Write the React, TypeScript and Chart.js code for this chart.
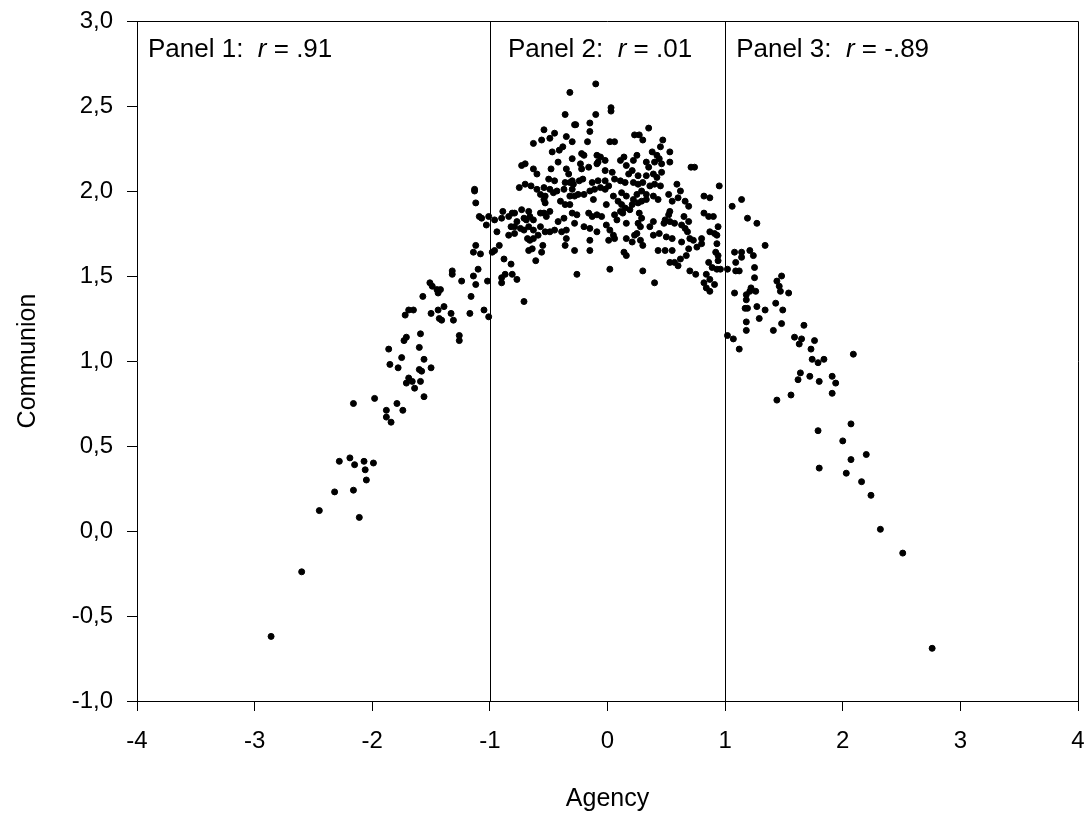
import React, { useEffect, useRef } from "react";
import { Chart, registerables } from "chart.js";

Chart.register(...registerables);

// ---- Data ----
const panel1X = [
  -1.51, -1.49, -1.45, -1.42, -1.44, -1.57, -1.16,
  -1.72, -1.69, -1.65, -1.50, -1.44, -1.39, -1.33, -1.31, -1.43, -1.41, -1.17, -1.05, -1.01,
  -1.26, -1.26, -1.59, -1.71, -1.73, -1.86, -1.60, -1.75, -1.56, -1.85, -1.78, -1.50, -1.60, -1.58,
  -1.69, -1.66, -1.71, -1.59, -1.64, -1.56, -1.98, -2.16, -1.79, -1.88, -1.74, -1.88, -1.84,
  -2.28, -2.19, -2.15, -2.07, -1.99, -2.06, -2.05, -2.32, -2.16, -2.45, -2.11, -2.60, -2.86,
  -1.13, -1.13, -1.12, -1.09, -1.07, -1.03, -1.01, -1.12, -1.14, -1.08, -1.32, -1.32, -1.24,
  -1.10, -1.14, -1.12, -1.02,
];
const panel1Y = [
  1.46, 1.44, 1.42, 1.42, 1.40, 1.38, 1.38,
  1.27, 1.30, 1.30, 1.28, 1.30, 1.32, 1.28, 1.24, 1.25, 1.24, 1.28, 1.30, 1.26,
  1.15, 1.12, 1.16, 1.14, 1.12, 1.07, 1.08, 1.02, 1.01, 0.98, 0.96, 0.96, 0.95, 0.94,
  0.90, 0.88, 0.87, 0.88, 0.84, 0.79, 0.78, 0.75, 0.75, 0.71, 0.71, 0.67, 0.64,
  0.41, 0.43, 0.39, 0.41, 0.40, 0.36, 0.30, 0.23, 0.24, 0.12, 0.08, -0.24, -0.62,
  2.01, 2.00, 1.93, 1.85, 1.84, 1.80, 1.85, 1.68, 1.64, 1.63, 1.53, 1.51, 1.47,
  1.54, 1.50, 1.45, 1.47,
];

const panel2X = [
  -0.96, -0.94, -0.90, -0.89, -0.84, -0.81, -0.79, -0.77, -0.82, -0.79, -0.84, -0.79, -0.73, -0.69,
  -0.67, -0.74, -0.71, -0.75, -0.70, -0.65, -0.60, -0.60, -0.68, -0.66, -0.67, -0.64, -0.61, -0.56,
  -0.55, -0.71, -0.63, -0.57, -0.53, -0.57, -0.54, -0.52, -0.98, -0.96, -0.92, -0.88, -0.82, -0.90,
  -0.90, -0.87, -0.81, -0.77,
  -0.10, -0.32, -0.36, -0.10, -0.15, -0.28, -0.27, -0.15, -0.54, -0.63, -0.56, -0.49, -0.45, -0.35,
  -0.30, -0.38, -0.41, -0.47, -0.17, -0.22, -0.20, -0.30, -0.42, -0.09, -0.06, -0.08, -0.02, -0.23,
  -0.22, -0.16, -0.09, -0.73, -0.70, -0.63, -0.48, -0.35, -0.33, -0.50, -0.45, -0.36, -0.32, -0.30,
  -0.24, -0.21, -0.13, -0.08, -0.02, -0.54, -0.57, -0.53, -0.49, -0.46, -0.37, -0.30, -0.29, -0.25,
  -0.20, -0.15, -0.11, -0.06, -0.02, 0.01,
  -0.54, -0.53, -0.43, -0.32, -0.28, -0.12, -0.01, -0.40, -0.36, -0.32, -0.71, -0.66, -0.63, -0.49,
  -0.42, -0.37, -0.30, -0.26, -0.16, -0.13, -0.09, -0.05, -0.28, -0.67, -0.49, -0.45, -0.39, -0.35,
  -0.20, -0.15, -0.09, -0.01, -0.63, -0.59, -0.35, -0.36, -0.28, -0.15, -0.15, 0.01, -0.26, 0.02,
  0.03, 0.03, 0.35, 0.23, 0.27, 0.30, 0.02, 0.06, 0.47, 0.45, 0.53, 0.38, 0.42, 0.44, 0.40, 0.25,
  0.14, 0.11, 0.22, 0.16, 0.33, 0.35, 0.53, 0.46, 0.71, 0.74, -0.02, 0.04, 0.21, 0.18, 0.26, 0.33,
  0.39, 0.42, 0.46, 0.06, 0.11, 0.15, 0.22, 0.26, 0.30, 0.36, 0.40, 0.45, 0.59, 0.62, 0.95, 0.82,
  0.87, 0.52, 0.05, 0.12, 0.16, 0.25, 0.29, 0.33, 0.39,
  0.43, 0.55, 0.60, 0.66, 0.69, 0.09, 0.12, 0.15, 0.11, 0.13, 0.22, 0.21, 0.19, 0.26, 0.29, 0.33,
  0.06, 0.08, 0.16, 0.27, 0.29, 0.26, 0.28, 0.53, 0.52, 0.49, 0.53, 0.48, 0.57, 0.65, 0.69, 0.39,
  0.36, 0.63, 0.66, 0.68, 0.82, 0.86, 0.90, 0.94, 0.87, 0.91, 0.93, 0.02, 0.05, 0.06, 0.16, 0.21,
  0.23, 0.25, 0.28, 0.30, 0.39, 0.44, 0.50, 0.55, 0.63, 0.70, 0.73, 0.76, 0.80, 0.80, 0.43, 0.49,
  0.55, 0.14, 0.16, 0.69, 0.67, 0.93, 0.92, 0.94, 0.53, 0.57, 0.62, 0.60, 0.30, 0.40, 0.70, 0.75,
  0.86, 0.89, 0.93, 0.96, 0.84, 0.87, 0.91, 0.82, 0.84, 0.94, 0.87,
];
const panel2Y = [
  1.83, 1.76, 1.84, 1.88, 1.85, 1.87, 1.87, 1.82, 1.79, 1.79, 1.74, 1.75, 1.89, 1.83,
  1.88, 1.78, 1.77, 2.02, 2.04, 2.03, 2.10, 2.01, 1.72, 1.71, 1.65, 1.66, 1.59, 1.64,
  1.68, 1.35, 1.77, 1.79, 1.76, 1.87, 1.87, 1.85, 1.64, 1.65, 1.68, 1.60, 1.57, 1.49,
  1.46, 1.51, 1.51, 1.48,
  2.63, 2.58, 2.45, 2.45, 2.40, 2.39, 2.39, 2.35, 2.36, 2.28, 2.30, 2.31, 2.34, 2.32,
  2.29, 2.26, 2.24, 2.23, 2.29, 2.22, 2.21, 2.19, 2.17, 2.21, 2.20, 2.17, 2.18, 2.16,
  2.13, 2.14, 2.16, 2.15, 2.16, 2.13, 2.13, 2.13, 2.10, 2.07, 2.06, 2.05, 2.05, 2.06,
  2.06, 2.07, 2.05, 2.06, 2.06, 2.02, 1.98, 1.97, 2.01, 1.99, 2.01, 2.01, 2.04, 1.98,
  1.98, 2.00, 2.01, 2.02, 2.01, 2.03,
  1.95, 1.93, 2.00, 1.97, 1.97, 1.95, 1.92, 1.94, 1.92, 1.92, 1.84, 1.85, 1.83, 1.88,
  1.82, 1.84, 1.87, 1.86, 1.87, 1.85, 1.86, 1.85, 1.81, 1.79, 1.76, 1.77, 1.76, 1.77,
  1.79, 1.78, 1.76, 1.80, 1.72, 1.74, 1.72, 1.68, 1.65, 1.65, 1.71, 1.71, 1.51, 1.54,
  2.49, 2.47, 2.37, 2.33, 2.33, 2.30, 2.29, 2.29, 2.30, 2.26, 2.23, 2.23, 2.21, 2.19, 2.17, 2.21,
  2.20, 2.18, 2.18, 2.15, 2.17, 2.14, 2.17, 2.16, 2.14, 2.14, 2.12, 2.11, 2.12, 2.10, 2.09, 2.09,
  2.10, 2.08, 2.11, 2.07, 2.06, 2.05, 2.05, 2.04, 2.05, 2.03, 2.04, 2.03, 2.04, 2.00, 2.03, 1.97,
  1.96, 1.98, 1.97, 1.99, 1.97, 1.98, 2.00, 1.98, 1.97,
  1.95, 1.94, 1.96, 1.94, 1.91, 1.94, 1.92, 1.90, 1.88, 1.87, 1.95, 1.92, 1.89, 1.93, 1.94, 1.95,
  1.86, 1.83, 1.81, 1.87, 1.84, 1.81, 1.79, 1.88, 1.86, 1.83, 1.82, 1.81, 1.81, 1.85, 1.82, 1.82,
  1.79, 1.80, 1.78, 1.76, 1.87, 1.85, 1.85, 1.79, 1.76, 1.75, 1.74, 1.77, 1.74, 1.72, 1.72, 1.70,
  1.74, 1.75, 1.71, 1.68, 1.74, 1.75, 1.73, 1.72, 1.70, 1.72, 1.71, 1.67, 1.72, 1.69, 1.65, 1.65,
  1.65, 1.64, 1.62, 1.66, 1.62, 1.69, 1.64, 1.62, 1.58, 1.58, 1.60, 1.56, 1.53, 1.46, 1.53, 1.51,
  1.58, 1.55, 1.54, 1.54, 1.51, 1.48, 1.45, 1.46, 1.43, 1.59, 1.41,
];

const panel3X = [
  1.14, 1.06, 1.19, 1.27, 1.34, 1.08, 1.14, 1.21, 1.14, 1.24, 1.09, 1.02, 1.09, 1.12, 1.25, 1.25,
  1.44, 1.48, 1.46, 1.47, 1.54, 1.22, 1.21, 1.18, 1.18, 1.17, 1.19, 1.26, 1.08, 1.27, 1.34, 1.43,
  1.49, 1.29, 1.18, 1.48, 1.18, 1.41, 1.67, 1.02, 1.07, 1.12, 1.59, 1.65, 1.63, 1.76, 1.73, 1.74,
  1.79, 1.84, 1.64, 1.62, 1.72, 1.80, 1.91, 1.94, 1.91, 1.44, 1.56,
  2.09, 2.07, 1.79, 2.00, 2.20, 2.07, 1.80, 2.03, 2.16, 2.24, 2.32, 2.51, 2.76,
];
const panel3Y = [
  1.95, 1.91, 1.84, 1.81, 1.68, 1.64, 1.64, 1.65, 1.61, 1.62, 1.58, 1.54, 1.53, 1.53, 1.55, 1.49,
  1.47, 1.50, 1.44, 1.41, 1.40, 1.43, 1.41, 1.39, 1.36, 1.31, 1.31, 1.41, 1.40, 1.32, 1.30, 1.34,
  1.30, 1.25, 1.23, 1.22, 1.18, 1.18, 1.21, 1.15, 1.13, 1.07, 1.14, 1.13, 1.10, 1.12, 1.07, 1.01,
  0.99, 1.01, 0.93, 0.89, 0.91, 0.88, 0.91, 0.87, 0.81, 0.77, 0.80,
  1.04, 0.63, 0.59, 0.53, 0.45, 0.42, 0.37, 0.34, 0.29, 0.21, 0.01, -0.13, -0.69,
];

const xMin = -4;
const xMax = 4;
const xStep = 1;
const yMin = -1;
const yMax = 3;
const yStep = 0.5;

const panelBounds = [-1, 1];
const panelAnchors = [-4, -1, 1];
const panelNames = ["Panel 1:", "Panel 2:", "Panel 3:"];
const panelR = [".91", ".01", "-.89"];

const xTitle = "Agency";
const yTitle = "Communion";

const FONT = '"Liberation Sans", Arial, Helvetica, sans-serif';

const toPoints = (xs: number[], ys: number[]) => xs.map((x, i) => ({ x, y: ys[i] }));

const overlayPlugin = {
  id: "overlay",
  afterDraw(chart: any) {
    const { ctx, chartArea } = chart;
    const xs = chart.scales.x;
    const { left, right, top, bottom } = chartArea;
    ctx.save();
    ctx.strokeStyle = "#000";
    ctx.lineWidth = 1;
    ctx.beginPath();
    ctx.moveTo(left, top + 0.5);
    ctx.lineTo(right + 0.5, top + 0.5);
    ctx.lineTo(right + 0.5, bottom);
    ctx.stroke();
    panelBounds.forEach((v) => {
      const px = Math.round(xs.getPixelForValue(v)) + 0.5;
      ctx.beginPath();
      ctx.moveTo(px, top);
      ctx.lineTo(px, bottom);
      ctx.stroke();
    });
    ctx.fillStyle = "#000";
    ctx.textBaseline = "middle";
    ctx.textAlign = "left";
    const offsets = [11, 18, 11];
    panelAnchors.forEach((a, i) => {
      let x = xs.getPixelForValue(a) + offsets[i];
      const y = top + 29;
      ctx.font = `26px ${FONT}`;
      const p1 = panelNames[i] + "  ";
      ctx.fillText(p1, x, y);
      x += ctx.measureText(p1).width;
      ctx.font = `italic 26px ${FONT}`;
      ctx.fillText("r", x, y);
      x += ctx.measureText("r").width;
      ctx.font = `26px ${FONT}`;
      ctx.fillText(" = " + panelR[i], x, y);
    });
    ctx.font = `25px ${FONT}`;
    ctx.textAlign = "center";
    ctx.textBaseline = "alphabetic";
    ctx.fillText(xTitle, (left + right) / 2, 806);
    ctx.translate(28, (top + bottom) / 2);
    ctx.rotate(-Math.PI / 2);
    ctx.textBaseline = "middle";
    ctx.fillText(yTitle, 0, 0);
    ctx.restore();
  },
};

export default function App() {
  const canvasRef = useRef<HTMLCanvasElement | null>(null);

  useEffect(() => {
    if (!canvasRef.current) return;
    const pointStyle = {
      showLine: false,
      backgroundColor: "#000",
      borderColor: "#000",
      pointRadius: 3,
      pointBorderWidth: 1,
      pointHoverRadius: 3,
    };
    const chart = new Chart(canvasRef.current, {
      type: "scatter",
      data: {
        datasets: [
          { label: "Panel 1", data: toPoints(panel1X, panel1Y), ...pointStyle },
          { label: "Panel 2", data: toPoints(panel2X, panel2Y), ...pointStyle },
          { label: "Panel 3", data: toPoints(panel3X, panel3Y), ...pointStyle },
        ],
      },
      options: {
        responsive: false,
        animation: false,
        layout: { padding: 0 },
        plugins: {
          legend: { display: false },
          tooltip: { enabled: false },
        },
        scales: {
          x: {
            type: "linear",
            min: xMin,
            max: xMax,
            afterFit: (s: any) => {
              s.height = 112;
              s.paddingLeft = 0;
              s.paddingRight = 8;
              s.paddingTop = 0;
              s.paddingBottom = 0;
            },
            ticks: {
              stepSize: xStep,
              color: "#000",
              padding: 16,
              font: { family: FONT, size: 24 },
              maxRotation: 0,
            },
            grid: {
              drawOnChartArea: false,
              drawTicks: true,
              tickLength: 10,
              tickColor: "#000",
              tickWidth: 1,
            },
            border: { display: true, color: "#000", width: 1 },
          },
          y: {
            type: "linear",
            min: yMin,
            max: yMax,
            afterFit: (s: any) => {
              s.width = 137;
              s.paddingTop = 21;
              s.paddingBottom = 0;
              s.paddingLeft = 0;
              s.paddingRight = 0;
            },
            ticks: {
              stepSize: yStep,
              color: "#000",
              padding: 14,
              font: { family: FONT, size: 24 },
              callback: (v: any) => Number(v).toFixed(1).replace(".", ","),
            },
            grid: {
              drawOnChartArea: false,
              drawTicks: true,
              tickLength: 10,
              tickColor: "#000",
              tickWidth: 1,
            },
            border: { display: true, color: "#000", width: 1 },
          },
        },
      },
      plugins: [overlayPlugin],
    });
    return () => chart.destroy();
  }, []);

  return (
    <div style={{ position: "absolute", left: 0, top: 0, width: 1086, height: 813, background: "#fff" }}>
      <canvas ref={canvasRef} width={1086} height={813} style={{ display: "block" }} />
    </div>
  );
}
